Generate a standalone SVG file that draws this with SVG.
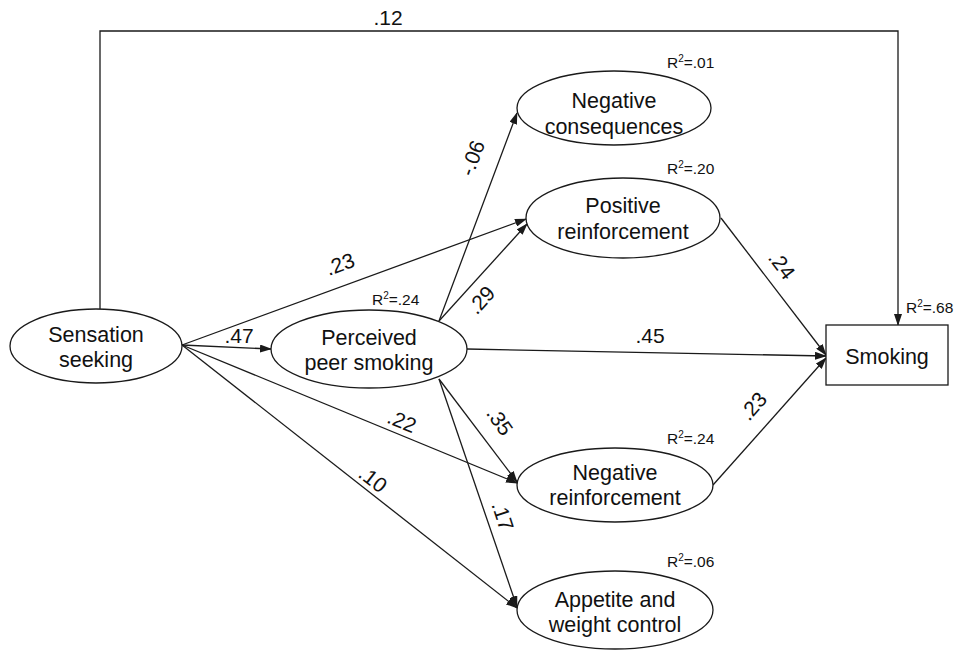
<svg xmlns="http://www.w3.org/2000/svg" width="970" height="650" viewBox="0 0 970 650">
<defs>
<marker id="arr" markerWidth="12" markerHeight="8" refX="11" refY="4" orient="auto" markerUnits="userSpaceOnUse">
<path d="M0,0 L12,4 L0,8 Z" fill="#1a1a1a"/>
</marker>
<style>
.node ellipse, .node rect { fill: #fff; stroke: #1a1a1a; stroke-width: 1.3; }
.nt { font-family: "Liberation Sans", Arial, sans-serif; font-size: 21.5px; fill: #111; text-anchor: middle; }
.cl { font-family: "Liberation Sans", Arial, sans-serif; font-size: 21px; fill: #111; text-anchor: middle; }
.rl { font-family: "Liberation Sans", Arial, sans-serif; font-size: 15.5px; fill: #111; }
.sup { font-size: 10px; }
.conn line, .conn path { stroke: #1a1a1a; stroke-width: 1.3; fill: none; marker-end: url(#arr); }
</style>
</defs>
<rect width="970" height="650" fill="#fff"/>

<g class="conn" id="connectors">
<path d="M100,309 V31 H898 V325"/>
<line x1="182" y1="345" x2="271" y2="349"/>
<line x1="182" y1="345" x2="526" y2="219"/>
<line x1="182" y1="345" x2="517" y2="483"/>
<line x1="182" y1="345" x2="517" y2="608"/>
<line x1="439" y1="321" x2="517" y2="113"/>
<line x1="439" y1="321" x2="527" y2="224"/>
<line x1="467" y1="349" x2="826" y2="356"/>
<line x1="439" y1="379" x2="517" y2="482"/>
<line x1="439" y1="379" x2="517" y2="607"/>
<line x1="721" y1="218" x2="826" y2="355"/>
<line x1="713" y1="485" x2="826" y2="358"/>
</g>

<g id="coefficients">
<text class="cl" x="388" y="25">.12</text>
<text class="cl" x="239" y="343">.47</text>
<text class="cl" dominant-baseline="central" transform="translate(340,264) rotate(-20.1)">.23</text>
<text class="cl" dominant-baseline="central" transform="translate(402,421) rotate(22.4)">.22</text>
<text class="cl" dominant-baseline="central" transform="translate(373,479) rotate(38.1)">.10</text>
<text class="cl" dominant-baseline="central" transform="translate(472,158) rotate(-69.4)">-.06</text>
<text class="cl" dominant-baseline="central" transform="translate(481,300) rotate(-47.8)">.29</text>
<text class="cl" dominant-baseline="central" transform="translate(500,421) rotate(55)">.35</text>
<text class="cl" dominant-baseline="central" transform="translate(503,516) rotate(72)">.17</text>
<text class="cl" x="650" y="343">.45</text>
<text class="cl" dominant-baseline="central" transform="translate(782,265) rotate(52.5)">.24</text>
<text class="cl" dominant-baseline="central" transform="translate(753,406) rotate(-48.4)">.23</text>
</g>

<g class="node" id="sensation-seeking">
<ellipse cx="96" cy="346" rx="86" ry="37"/>
<text class="nt" x="96" y="342">Sensation</text>
<text class="nt" x="96" y="367">seeking</text>
</g>

<g class="node" id="perceived-peer-smoking">
<ellipse cx="369" cy="349" rx="98" ry="39"/>
<text class="nt" x="369" y="345">Perceived</text>
<text class="nt" x="369" y="370">peer smoking</text>
<text class="rl" x="372" y="305">R<tspan class="sup" dy="-6">2</tspan><tspan dy="6">=.24</tspan></text>
</g>

<g class="node" id="negative-consequences">
<ellipse cx="614" cy="108" rx="97" ry="37"/>
<text class="nt" x="614" y="108">Negative</text>
<text class="nt" x="614" y="134">consequences</text>
<text class="rl" x="667" y="68">R<tspan class="sup" dy="-6">2</tspan><tspan dy="6">=.01</tspan></text>
</g>

<g class="node" id="positive-reinforcement">
<ellipse cx="623" cy="218" rx="97" ry="40"/>
<text class="nt" x="623" y="213">Positive</text>
<text class="nt" x="623" y="239">reinforcement</text>
<text class="rl" x="667" y="174">R<tspan class="sup" dy="-6">2</tspan><tspan dy="6">=.20</tspan></text>
</g>

<g class="node" id="negative-reinforcement">
<ellipse cx="615" cy="485" rx="98" ry="37"/>
<text class="nt" x="615" y="480">Negative</text>
<text class="nt" x="615" y="505">reinforcement</text>
<text class="rl" x="667" y="444">R<tspan class="sup" dy="-6">2</tspan><tspan dy="6">=.24</tspan></text>
</g>

<g class="node" id="appetite-weight-control">
<ellipse cx="615" cy="610" rx="98" ry="39"/>
<text class="nt" x="615" y="607">Appetite and</text>
<text class="nt" x="615" y="632">weight control</text>
<text class="rl" x="667" y="567">R<tspan class="sup" dy="-6">2</tspan><tspan dy="6">=.06</tspan></text>
</g>

<g class="node" id="smoking">
<rect x="826" y="325" width="122" height="60"/>
<text class="nt" x="887" y="364">Smoking</text>
<text class="rl" x="906" y="313">R<tspan class="sup" dy="-6">2</tspan><tspan dy="6">=.68</tspan></text>
</g>
</svg>
